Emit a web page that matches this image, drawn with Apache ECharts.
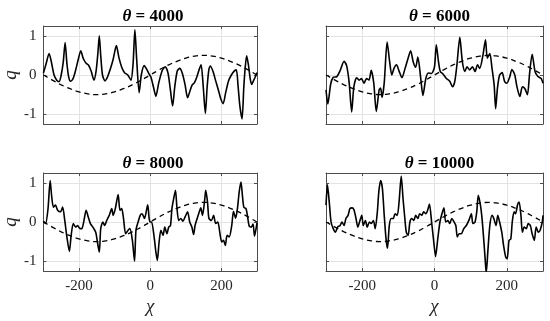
<!DOCTYPE html>
<html>
<head>
<meta charset="utf-8">
<script src="https://cdn.jsdelivr.net/npm/echarts@6/dist/echarts.min.js"></script>
<style>html,body{margin:0;padding:0;background:#fff}#c{width:550px;height:321px}</style>
</head>
<body>
<div id="c"></div>
<script>
var panelTitles = ['4000', '6000', '8000', '10000'];
var xTicks = [-200, 0, 200];
var yTicks = [-1, 0, 1];
var dashX = [-300,-275,-250,-225,-200,-175,-150,-125,-100,-75,-50,-25,0,25,50,75,100,125,150,175,200,225,250,275,300];
var dashQ = [0,-0.13,-0.25,-0.35,-0.43,-0.48,-0.5,-0.48,-0.43,-0.35,-0.25,-0.13,0,0.13,0.25,0.35,0.43,0.48,0.5,0.48,0.43,0.35,0.25,0.13,0];

var q4000 = [[-300,0.05],[-292,0.3],[-284,0.55],[-278,0.35],[-270,0.0],[-262,-0.14],[-256,-0.17],[-250,0.0],[-244,0.35],[-239,0.83],[-234,0.3],[-229,-0.05],[-224,-0.16],[-217,-0.1],[-210,0.1],[-202,0.4],[-195,0.62],[-188,0.42],[-180,0.3],[-173,0.25],[-166,0.1],[-158,-0.13],[-152,0.1],[-147,0.55],[-143,1.0],[-139,0.5],[-134,0.0],[-127,-0.15],[-120,-0.05],[-112,0.15],[-104,0.4],[-95,0.75],[-88,0.45],[-80,0.2],[-72,0.06],[-63,0.0],[-54,-0.13],[-48,0.3],[-43,1.15],[-38,0.4],[-31,-0.45],[-25,0.0],[-17,0.24],[-10,0.15],[-3,0.02],[2,-0.05],[9,-0.3],[16,-0.54],[24,-0.2],[34,0.12],[42,0.21],[50,0.05],[57,-0.4],[63,-0.79],[69,-0.3],[76,0.1],[83,0.17],[90,0.05],[98,-0.25],[105,-0.58],[112,-0.4],[118,-0.25],[124,-0.2],[131,-0.05],[138,0.15],[143,0.26],[149,-0.3],[155,-0.98],[160,-0.3],[165,0.15],[169,0.23],[176,0.1],[184,-0.15],[192,-0.4],[198,-0.6],[205,-0.73],[212,-0.45],[220,-0.15],[228,0.0],[236,0.1],[242,0.13],[247,-0.3],[252,-0.8],[258,-1.12],[263,-0.3],[267,0.2],[271,0.49],[276,0.25],[281,-0.1],[285,-0.24],[290,-0.15],[295,-0.05],[300,0.06]];

var q6000 = [[-300,-0.38],[-295,-0.74],[-287,-0.23],[-280,-0.06],[-270,-0.04],[-261,0.11],[-250,0.35],[-243,0.24],[-236,-0.19],[-229,-0.94],[-223,-0.3],[-215,-0.07],[-208,-0.13],[-202,-0.09],[-195,-0.21],[-188,-0.09],[-181,-0.13],[-175,0.12],[-168,-0.2],[-161,-0.93],[-153,-0.38],[-149,-0.33],[-145,-0.57],[-139,-0.2],[-131,0.84],[-124,0.34],[-118,0.0],[-112,0.17],[-105,0.26],[-98,0.1],[-90,-0.07],[-82,0.15],[-73,0.43],[-66,0.62],[-59,0.34],[-52,0.2],[-46,0.46],[-38,-0.09],[-32,-0.52],[-24,-0.09],[-17,0.05],[-8,0.04],[0,0.21],[5,0.77],[11,0.34],[16,0.09],[24,0.02],[33,-0.09],[42,-0.16],[50,-0.3],[56,-0.17],[62,0.26],[70,0.96],[77,0.34],[84,0.09],[90,0.21],[97,0.13],[105,0.21],[112,0.09],[119,0.26],[125,0.17],[134,0.51],[141,0.9],[146,0.43],[153,0.55],[159,0.17],[165,-0.26],[169,-0.86],[174,-0.34],[180,0.0],[187,0.06],[194,-0.17],[200,-0.21],[208,-0.05],[214,0.14],[222,0.0],[228,-0.3],[236,-0.55],[243,-0.3],[250,-0.35],[257,-0.5],[263,0.05],[270,0.53],[278,0.09],[286,-0.04],[295,-0.09],[300,-0.21]];

var q8000 = [[-300,0.02],[-294,-0.04],[-287,0.34],[-281,1.06],[-277,0.68],[-272,0.38],[-266,0.43],[-260,0.3],[-252,0.26],[-246,0.38],[-240,0.04],[-234,-0.38],[-227,-0.75],[-222,-0.34],[-216,-0.04],[-209,-0.13],[-204,-0.09],[-197,-0.17],[-192,-0.17],[-185,0.09],[-180,0.3],[-174,0.13],[-168,-0.04],[-161,-0.13],[-153,-0.26],[-149,-0.47],[-143,-0.77],[-139,-0.17],[-133,0.0],[-128,-0.09],[-122,0.04],[-115,0.17],[-108,0.34],[-104,0.17],[-98,0.34],[-90,0.7],[-85,0.3],[-80,0.34],[-75,0.09],[-69,-0.3],[-62,-0.21],[-57,-0.17],[-50,-0.47],[-44,-1.0],[-40,-0.21],[-34,0.0],[-28,0.17],[-23,0.21],[-16,0.09],[-7,0.44],[-3,0.09],[0,0.0],[4,0.0],[11,-0.38],[16,-0.77],[20,-0.98],[25,-0.51],[30,-0.21],[36,-0.34],[41,-0.13],[47,-0.3],[52,-0.13],[57,-0.09],[61,0.34],[66,0.6],[71,0.81],[75,0.38],[80,0.04],[86,0.09],[92,0.02],[98,0.13],[105,0.26],[111,0.0],[117,-0.13],[122,-0.32],[126,-0.09],[132,0.09],[138,0.26],[142,0.36],[147,0.17],[153,0.56],[156,0.81],[161,0.51],[165,0.09],[172,0.04],[178,0.17],[184,-0.04],[190,0.0],[196,-0.3],[201,-0.51],[206,-0.47],[211,-0.6],[216,-0.34],[222,-0.38],[229,-0.09],[234,0.27],[240,0.1],[245,0.34],[250,0.77],[255,1.02],[259,0.68],[263,0.38],[269,0.34],[273,0.17],[278,-0.1],[284,-0.13],[289,-0.05],[293,-0.36],[300,-0.02]];

var q10000 = [[-300,0.43],[-296,0.95],[-291,0.51],[-286,0.0],[-280,-0.17],[-274,-0.26],[-268,-0.13],[-261,-0.09],[-256,0.0],[-250,-0.09],[-245,0.09],[-239,0.17],[-234,0.34],[-228,0.36],[-223,0.32],[-217,0.09],[-212,-0.13],[-206,0.04],[-201,0.17],[-197,-0.09],[-191,0.04],[-186,-0.13],[-180,0.0],[-175,-0.04],[-169,0.04],[-164,-0.17],[-158,0.26],[-154,0.77],[-149,1.06],[-144,0.85],[-139,0.17],[-134,-0.43],[-130,-0.67],[-125,-0.09],[-120,0.09],[-114,0.09],[-109,0.21],[-103,0.17],[-98,0.51],[-92,1.17],[-87,0.6],[-82,0.09],[-78,-0.26],[-73,-0.34],[-68,0.0],[-63,0.09],[-57,0.04],[-52,0.17],[-46,0.09],[-41,0.21],[-35,0.17],[-30,0.26],[-24,0.21],[-19,0.3],[-14,0.46],[-8,0.0],[-2,-0.51],[3,-0.88],[9,-0.43],[15,0.0],[20,0.19],[26,0.36],[31,0.0],[37,0.04],[42,-0.04],[48,0.09],[53,0.02],[59,-0.09],[63,-0.38],[68,-0.3],[74,-0.3],[81,-0.17],[88,-0.09],[95,0.04],[102,0.21],[106,-0.04],[112,0.0],[117,0.27],[121,0.68],[127,0.43],[131,0.13],[136,-0.43],[140,-0.94],[143,-1.3],[148,-0.68],[153,-0.09],[159,0.17],[164,0.09],[170,-0.09],[175,0.17],[180,0.0],[186,-0.26],[191,-0.6],[197,-0.9],[201,-0.94],[206,-0.47],[211,-0.43],[215,0.0],[220,0.26],[224,0.21],[230,0.45],[234,0.51],[239,0.17],[243,-0.26],[248,-0.13],[254,-0.17],[259,-0.04],[265,-0.09],[270,-0.3],[276,-0.47],[281,-0.13],[287,-0.26],[292,-0.21],[298,0.0],[300,0.17]];

var curves = [q4000, q6000, q8000, q10000];
var dashData = dashX.map(function (x, i) { return [x, dashQ[i]]; });

var grids = [
  {left: 39, top: 26, width: 218, height: 98},
  {left: 326, top: 26, width: 217, height: 98},
  {left: 39, top: 173, width: 218, height: 98},
  {left: 326, top: 173, width: 217, height: 98}
];
var FONT = 'Liberation Serif';
var boxColor = '#4d4d4d';
var xAxes = [], yAxes = [], series = [], titles = [];
grids.forEach(function (g, i) {
  var bottomRow = i >= 2, leftCol = i % 2 === 0;
  var base = {
    type: 'value', gridIndex: i, min: -300, max: 300,
    axisLine: {show: true, onZero: false, lineStyle: {color: boxColor, width: 1}},
    axisTick: {show: true, inside: true, length: 3, customValues: xTicks, lineStyle: {color: boxColor}},
    splitLine: {show: false}
  };
  xAxes.push(Object.assign({}, base, {
    position: 'bottom',
    axisLabel: {show: bottomRow, customValues: xTicks, color: '#262626', fontFamily: FONT, fontSize: 15, margin: 8},
    splitLine: {show: true, lineStyle: {color: '#e3e3e3', width: 1}},
    name: bottomRow ? 'χ' : '', nameLocation: 'middle', nameGap: 26,
    nameTextStyle: {fontFamily: FONT, fontStyle: 'italic', fontSize: 19, color: '#262626'}
  }));
  xAxes.push(Object.assign({}, base, {position: 'top', axisLabel: {show: false}}));
  var ybase = {
    type: 'value', gridIndex: i, min: -1.25, max: 1.25,
    axisLine: {show: true, onZero: false, lineStyle: {color: boxColor, width: 1}},
    axisTick: {show: true, inside: true, length: 3, customValues: yTicks, lineStyle: {color: boxColor}},
    splitLine: {show: false}
  };
  yAxes.push(Object.assign({}, ybase, {
    position: 'left',
    axisLabel: {show: leftCol, customValues: yTicks, color: '#262626', fontFamily: FONT, fontSize: 15, margin: 7},
    splitLine: {show: true, lineStyle: {color: '#e3e3e3', width: 1}},
    name: leftCol ? 'q' : '', nameLocation: 'middle', nameGap: 23, nameRotate: 90,
    nameTextStyle: {fontFamily: FONT, fontStyle: 'italic', fontSize: 19, color: '#262626'}
  }));
  yAxes.push(Object.assign({}, ybase, {position: 'right', axisLabel: {show: false}}));
  series.push({
    type: 'line', xAxisIndex: 2 * i, yAxisIndex: 2 * i, data: dashData, smooth: true,
    symbol: 'none', lineStyle: {color: '#000', width: 1.3, type: [5, 4]}, silent: true, z: 2
  });
  series.push({
    type: 'line', xAxisIndex: 2 * i, yAxisIndex: 2 * i, data: curves[i], smooth: 0.25,
    symbol: 'none', lineStyle: {color: '#000', width: 1.6}, silent: true, clip: true, z: 3
  });
  titles.push({
    text: '{i|θ} = ' + panelTitles[i],
    left: g.left + g.width / 2, top: g.top - 23, textAlign: 'center',
    textStyle: {fontFamily: FONT, fontWeight: 'bold', fontSize: 17, color: '#000',
      rich: {i: {fontFamily: FONT, fontStyle: 'italic', fontWeight: 'bold', fontSize: 17, color: '#000'}}}
  });
});

var chart = echarts.init(document.getElementById('c'), null, {renderer: 'canvas'});
chart.setOption({
  animation: false,
  backgroundColor: '#fff',
  title: titles,
  grid: grids,
  xAxis: xAxes,
  yAxis: yAxes,
  series: series
});
</script>
</body>
</html>
